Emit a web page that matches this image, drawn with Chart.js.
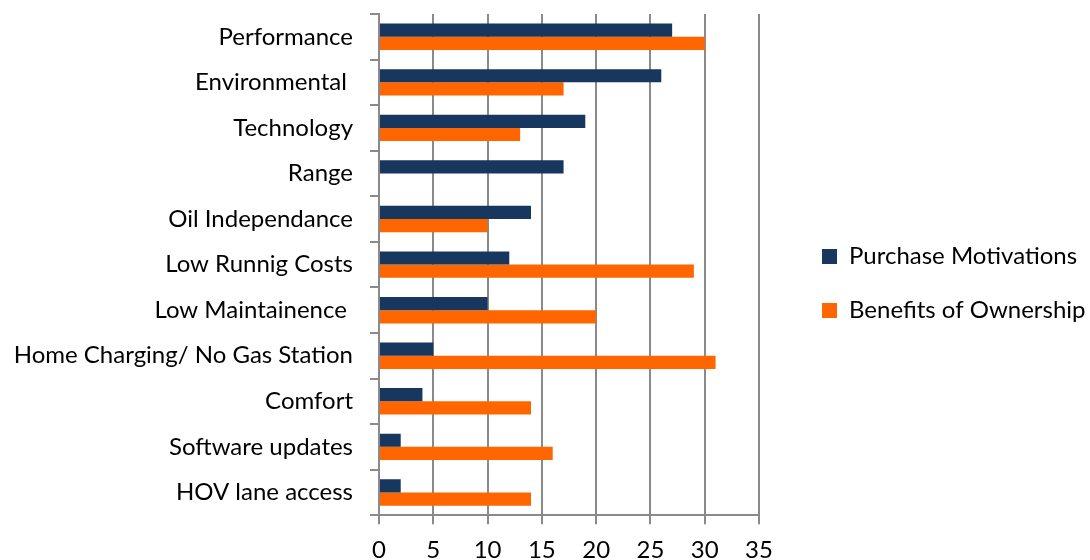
<!DOCTYPE html>
<html>
<head>
<meta charset="utf-8">
<script src="https://cdn.jsdelivr.net/npm/chart.js@4/dist/chart.umd.min.js"></script>
<style>
  html, body { margin: 0; padding: 0; background: #fff; }
  #wrap { width: 1090px; height: 560px; position: relative; overflow: hidden; }
</style>
</head>
<body>
<div id="wrap"><canvas id="c" width="1090" height="560"></canvas></div>
<script>
const categories = [
  "Performance", "Environmental ", "Technology", "Range", "Oil Independance",
  "Low Runnig Costs", "Low Maintainence ", "Home Charging/ No Gas Station",
  "Comfort", "Software updates", "HOV lane access"
];
const purchaseMotivations = [27, 26, 19, 17, 14, 12, 10, 5, 4, 2, 2];
const benefitsOfOwnership = [30, 17, 13, 0, 10, 29, 20, 31, 14, 16, 14];
const xTicks = [0, 5, 10, 15, 20, 25, 30, 35];

const FONT = "Lato, 'Open Sans', sans-serif";
const FS = 24;
const LEGEND_WIDTH = 331;   // space reserved on the right for the legend
const LEGEND_GAP = 33;      // gap between plot area and legend items
const LEGEND_LIFT = 12;

const legendLayout = {
  id: 'legendLayout',
  afterInit(chart) {
    const lg = chart.legend;
    if (!lg) return;
    const origFit = lg.fit.bind(lg);
    lg.fit = function () {
      origFit();
      this.width = LEGEND_WIDTH;
    };
  },
  afterLayout(chart) {
    const lg = chart.legend;
    if (!lg) return;
    lg.left += LEGEND_GAP;
    lg.right += LEGEND_GAP;
    lg.top -= LEGEND_LIFT;
    lg.bottom -= LEGEND_LIFT;
    if (lg.adjustHitBoxes) lg.adjustHitBoxes();
  }
};

new Chart(document.getElementById('c'), {
  type: 'bar',
  data: {
    labels: categories,
    datasets: [
      { label: 'Purchase Motivations', data: purchaseMotivations, backgroundColor: '#17375E',
        borderWidth: 0, categoryPercentage: 0.58, barPercentage: 1.0 },
      { label: 'Benefits of Ownership', data: benefitsOfOwnership, backgroundColor: '#FF6600',
        borderWidth: 0, categoryPercentage: 0.58, barPercentage: 1.0 }
    ]
  },
  plugins: [legendLayout],
  options: {
    indexAxis: 'y',
    responsive: false,
    animation: false,
    layout: { padding: { top: 14, left: 0, right: 0, bottom: -17 } },
    scales: {
      x: {
        min: 0, max: 35,
        afterBuildTicks: (axis) => { axis.ticks = xTicks.map(v => ({ value: v })); },
        grid: { color: '#8a8a8a', lineWidth: 2, tickLength: 9, drawTicks: true },
        border: { color: '#8a8a8a', width: 2 },
        ticks: { font: { family: FONT, size: FS }, color: '#000', padding: 12 }
      },
      y: {
        afterFit: (axis) => { axis.width = 379; axis.paddingTop = 0; axis.paddingBottom = 0; },
        grid: { display: true, drawOnChartArea: false, offset: true, color: '#8a8a8a', lineWidth: 2, tickLength: 9 },
        border: { color: '#8a8a8a', width: 2 },
        ticks: { font: { family: FONT, size: FS }, color: '#000', padding: 17 }
      }
    },
    plugins: {
      legend: {
        position: 'right',
        labels: {
          font: { family: FONT, size: FS }, color: '#000',
          boxWidth: 15, boxHeight: 15, padding: 30
        }
      },
      tooltip: { enabled: false }
    }
  }
});
</script>
</body>
</html>
